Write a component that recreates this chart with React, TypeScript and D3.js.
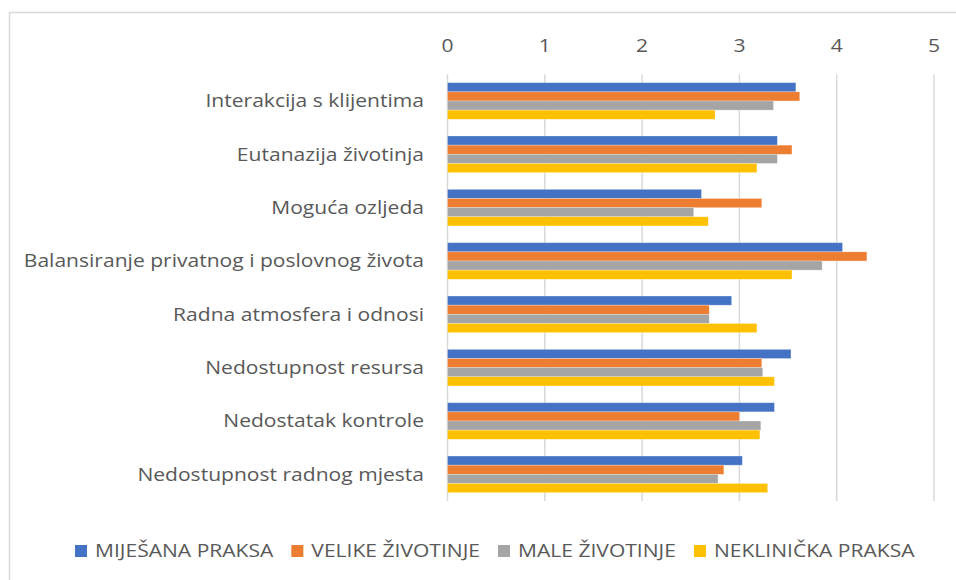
import * as React from 'react'
import * as d3 from 'd3'

const categories = [
    'Interakcija s klijentima',
    'Eutanazija životinja',
    'Moguća ozljeda',
    'Balansiranje privatnog i poslovnog života',
    'Radna atmosfera i odnosi',
    'Nedostupnost resursa',
    'Nedostatak kontrole',
    'Nedostupnost radnog mjesta',
]

const seriesNames = ['MIJEŠANA PRAKSA', 'VELIKE ŽIVOTINJE', 'MALE ŽIVOTINJE', 'NEKLINIČKA PRAKSA']
const seriesColors = ['#4472C4', '#ED7D31', '#A5A5A5', '#FFC000']

const mijesana = [3.58, 3.39, 2.61, 4.06, 2.92, 3.53, 3.36, 3.03]
const velike = [3.62, 3.54, 3.23, 4.31, 2.69, 3.23, 3.00, 2.84]
const male = [3.35, 3.39, 2.53, 3.85, 2.69, 3.24, 3.22, 2.78]
const neklinicka = [2.75, 3.18, 2.68, 3.54, 3.18, 3.36, 3.21, 3.29]

const seriesValues = [mijesana, velike, male, neklinicka]
const xTicks = [0, 1, 2, 3, 4, 5]

const W = 956
const H = 580
const FONT = '"Open Sans", sans-serif'
const TEXT = '#595959'
const FS = 18
const SX = 1.17 // text in the source looks stretched sideways

export default function App() {
    const ref = React.useRef<SVGSVGElement | null>(null)

    React.useEffect(() => {
        if (!ref.current) return
        const svg = d3.select(ref.current)
        svg.selectAll('*').remove()

        const label = (g: any, tx: number, ty: number, anchor: string, s: string) =>
            g.append('text')
                .attr('transform', `translate(${tx},${ty}) scale(${SX},1)`)
                .attr('text-anchor', anchor)
                .attr('font-family', FONT)
                .attr('font-size', FS)
                .attr('fill', TEXT)
                .text(s)

        // chart border
        svg.append('rect')
            .attr('x', 9.5).attr('y', 12.5)
            .attr('width', W + 20).attr('height', H + 20)
            .attr('fill', '#fff')
            .attr('stroke', '#d9d9d9')
            .attr('stroke-width', 1.5)

        const x = d3.scaleLinear().domain([0, 5]).range([447.5, 934])
        const y = d3.scaleBand<string>()
            .domain(categories)
            .range([74.3, 501])
            .paddingInner(0.314)
            .paddingOuter(0.157)
        const ys = d3.scaleBand<string>()
            .domain(seriesNames)
            .range([0, y.bandwidth()])

        // grid
        svg.append('g').selectAll('line')
            .data(xTicks)
            .enter().append('line')
            .attr('x1', d => x(d)).attr('x2', d => x(d))
            .attr('y1', 74.3).attr('y2', 501)
            .attr('stroke', '#d9d9d9')
            .attr('stroke-width', 1.5)

        // tick labels
        const tg = svg.append('g')
        xTicks.forEach(t => label(tg, x(t), 51.5, 'middle', String(t)))

        // bars
        seriesNames.forEach((name, si) => {
            svg.append('g').selectAll('rect')
                .data(seriesValues[si])
                .enter().append('rect')
                .attr('x', x(0))
                .attr('y', (d, i) => (y(categories[i]) as number) + (ys(name) as number))
                .attr('width', d => x(d) - x(0))
                .attr('height', ys.bandwidth())
                .attr('fill', seriesColors[si])
                .attr('stroke', '#fff')
                .attr('stroke-opacity', 0.35)
                .attr('stroke-width', 0.75)
        })

        // category labels
        const cg = svg.append('g')
        categories.forEach(c =>
            label(cg, 424, (y(c) as number) + y.bandwidth() / 2, 'end', c).attr('dy', '0.35em'))

        // legend
        const legend = svg.append('g')
        let lx = 75
        seriesNames.forEach((name, si) => {
            legend.append('rect')
                .attr('x', lx).attr('y', 545)
                .attr('width', 12).attr('height', 12)
                .attr('fill', seriesColors[si])
            const t = label(legend, lx + 20, 557, 'start', name)
            const tw = (t.node() as SVGTextElement).getComputedTextLength() * SX
            lx += 20 + tw + 18
        })
    }, [])

    return (
        <svg ref={ref} width={W} height={H}
            style={{ display: 'block', position: 'absolute', left: 0, top: 0 }} />
    )
}
